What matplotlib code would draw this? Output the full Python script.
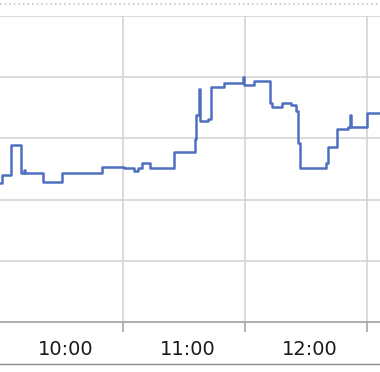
import numpy as np
import matplotlib
matplotlib.use("Agg")
import matplotlib.pyplot as plt
import matplotlib.transforms as mtransforms
from matplotlib.lines import Line2D

# Intraday series: minutes after 9:00 and level (in gridline units)
minutes = [29.5, 30.7, 34.9, 40.0, 41.5, 42.0, 50.5, 60.2, 79.9, 90.7,
           95.4, 97.4, 99.5, 103.3, 115.1, 125.2, 125.9, 127.6, 127.9, 132.0,
           133.5, 139.8, 149.2, 149.7, 154.2, 162.3, 163.3, 168.2, 172.4, 175.3,
           176.1, 177.0, 189.6, 190.6, 195.2, 200.6, 201.6, 202.1, 210.2, 216.4]
values = [2.27, 2.41, 2.89, 2.44, 2.48, 2.44, 2.28, 2.44, 2.54, 2.51,
          2.47, 2.51, 2.60, 2.51, 2.78, 2.99, 3.39, 3.80, 3.28, 3.32,
          3.84, 3.91, 4.00, 3.87, 3.94, 3.58, 3.52, 3.58, 3.55, 3.45,
          2.93, 2.51, 2.60, 2.86, 3.15, 3.19, 3.38, 3.18, 3.42, 3.42]

hour_ticks = [60, 120, 180]
hour_labels = ["10:00", "11:00", "12:00"]
half_hour_ticks = [90, 150, 210]
y_grid = [1, 2, 3, 4, 5]

fig = plt.figure(figsize=(3.8, 3.72), dpi=100)
ax = fig.add_axes([0, 1 - 322 / 372, 1, (322 - 16) / 372])

ax.step(minutes, values, where="post", color="#4f6fbf", lw=1.8, zorder=3)

ax.set_xlim(29.5, 216.4)
ax.set_ylim(0, 5)

# gridlines
for y in y_grid:
    ax.axhline(y, color="#dcdcdc", lw=1.4, zorder=1)
for x in half_hour_ticks:
    ax.axvline(x, color="#d4d4d4", lw=1.2, zorder=1)

for s in ["top", "left", "right"]:
    ax.spines[s].set_visible(False)
ax.spines["bottom"].set_color("#a8a8a8")
ax.spines["bottom"].set_linewidth(1.3)

ax.set_yticks([])
ax.set_xticks(hour_ticks)
ax.set_xticklabels(hour_labels, fontsize=14, color="#1a1a1a")
ax.set_xticks(half_hour_ticks, minor=True)
ax.tick_params(axis="x", which="major", length=0, pad=13)
ax.tick_params(axis="x", which="minor", length=7, width=1.2, color="#a8a8a8")

offset = mtransforms.ScaledTranslation(4 / 100, 0, fig.dpi_scale_trans)
for lab in ax.get_xticklabels():
    lab.set_transform(lab.get_transform() + offset)

# dotted rule at the top and solid rule at the bottom
fig.add_artist(Line2D([0, 1], [1 - 3.5 / 372] * 2, color="#bbbbbb", lw=1.1,
                      linestyle=(0, (1, 2)), transform=fig.transFigure))
fig.add_artist(Line2D([0, 1], [1 - 364 / 372] * 2, color="#8a8a8a", lw=1.0,
                      transform=fig.transFigure))

fig.savefig("out.png", dpi=100)
